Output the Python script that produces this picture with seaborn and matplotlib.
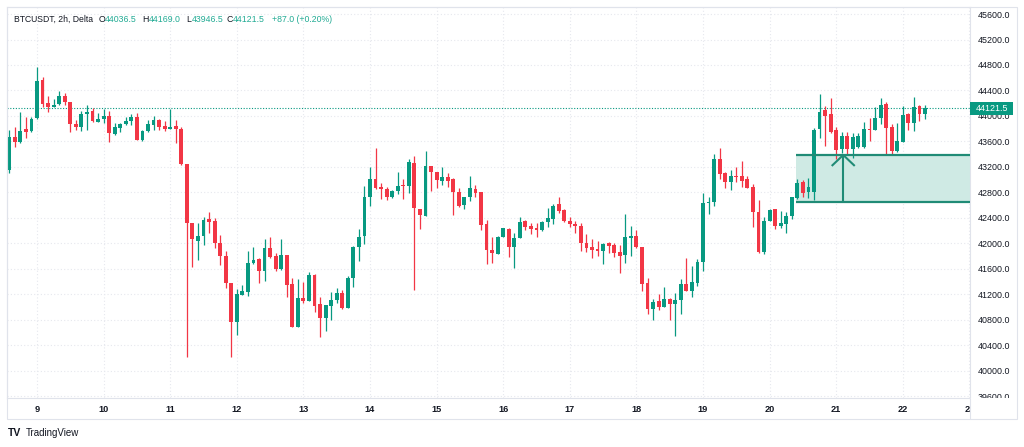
import numpy as np
import pandas as pd
import matplotlib
matplotlib.use("Agg")
import matplotlib.pyplot as plt
import matplotlib.dates as mdates
import matplotlib.transforms as mtransforms
from matplotlib.patches import Rectangle
from matplotlib.lines import Line2D
import seaborn as sns

# BTCUSDT 2h candles, 8 Dec 2023 14:00 -> 22 Dec 2023 08:00
start = "2023-12-08 14:00"

opens = [
    43152, 43675, 43586, 43790, 43759, 43963, 44559, 44198, 44146, 44182,
    44313, 44224, 43874, 43832, 44025, 44078, 43910, 43952, 44005, 43722,
    43816, 43869, 43916, 43978, 43623, 43764, 43858, 43937, 43837, 43801,
    43837, 43801, 43241, 42316, 42044, 42122, 42384, 42352, 42002, 41803,
    41374, 40773, 41191, 41243, 41688, 41751, 41568, 41923, 41803, 41594,
    41819, 41358, 40694, 41149, 41102, 41505, 41050, 40825, 41024, 41113,
    41217, 40992, 41453, 41939, 42122, 42734, 43011, 42880, 42854, 42723,
    42828, 42912, 42901, 43267, 42541, 42436, 43220, 43116, 42985, 43043,
    43006, 42812, 42598, 42723, 42854, 42802, 42305, 41897, 41834, 42106,
    42227, 41939, 42080, 42352, 42274, 42237, 42211, 42332, 42384, 42614,
    42525, 42352, 42300, 42279, 42012, 41939, 41908, 41887, 42002, 41976,
    41866, 41819, 42091, 42117, 41949, 41374, 40971, 41097, 40997, 41123,
    41045, 41113, 41358, 41259, 41384, 41704, 42640, 42645, 43320, 43100,
    42969, 43063, 43053, 43011, 42880, 42499, 41861, 42352, 42535, 42279,
    42300, 42431, 42708, 42969, 42812, 42800, 43796, 44094, 44031, 43780,
    43482, 43691, 43482, 43518, 43518, 43796, 43780, 43963, 44188, 43832,
    43450, 43597, 44031, 43885, 44157, 44036.5,
]
highs = [
    43780, 43832, 44067, 43978, 43978, 44773, 44606, 44313, 44266, 44392,
    44365, 44224, 43931, 44083, 44172, 44120, 44041, 44109, 44078, 43895,
    43884, 43989, 44031, 44052, 43780, 43937, 43999, 43947, 43926, 44104,
    43937, 43832, 43241, 42316, 42316, 42410, 42499, 42394, 42133, 41881,
    41374, 41285, 41348, 41881, 41949, 41766, 42065, 42106, 41845, 42065,
    41819, 41463, 41437, 41390, 41557, 41515, 41154, 41034, 41243, 41296,
    41269, 41489, 41960, 42222, 42901, 43205, 43492, 42954, 42880, 42839,
    43116, 43011, 43325, 43372, 42541, 43450, 43220, 43116, 43194, 43111,
    43032, 42865, 42723, 43058, 42917, 42802, 42368, 42106, 42117, 42248,
    42248, 42159, 42410, 42368, 42315, 42315, 42352, 42551, 42614, 42734,
    42541, 42420, 42352, 42316, 42143, 42070, 42044, 42002, 42028, 42012,
    41976, 42462, 42274, 42211, 41949, 41463, 41123, 41201, 41322, 41139,
    41217, 41437, 41777, 41646, 41751, 42786, 42734, 43398, 43492, 43126,
    43152, 43205, 43294, 43063, 42927, 42682, 42420, 42541, 42541, 42509,
    42488, 42734, 43006, 42995, 43032, 43817, 44340, 44162, 44287, 43832,
    43743, 43754, 43728, 43728, 43911, 43963, 44136, 44277, 44225, 43869,
    43885, 44162, 44041, 44303, 44172, 44169.0,
]
lows = [
    43110, 43508, 43580, 43660, 43748, 43952, 44146, 44067, 44140, 44172,
    44167, 43754, 43780, 43769, 43780, 43905, 43900, 43895, 43586, 43696,
    43748, 43858, 43853, 43623, 43612, 43754, 43785, 43785, 43759, 43801,
    43570, 43231, 40223, 41625, 41740, 41975, 42159, 41923, 41662, 41306,
    40224, 40563, 41191, 41181, 41677, 41384, 41411, 41777, 41568, 41583,
    41165, 40694, 40694, 41060, 41092, 40919, 40537, 40631, 40799, 41060,
    40971, 40992, 41322, 41730, 41986, 42587, 42849, 42692, 42682, 42708,
    42770, 42692, 42797, 41270, 42221, 42436, 42823, 42865, 42917, 42891,
    42446, 42577, 42535, 42666, 42734, 42211, 41677, 41698, 41834, 42096,
    41792, 41620, 42080, 42211, 42148, 42106, 42201, 42253, 42305, 42483,
    42342, 42253, 42169, 41881, 41871, 41777, 41803, 41677, 41855, 41792,
    41531, 41698, 41808, 41923, 41259, 40888, 40799, 40956, 40997, 40799,
    40548, 40893, 41259, 41154, 41337, 41568, 42457, 42593, 43006, 42875,
    42838, 42969, 42891, 42865, 42263, 41845, 41829, 42352, 42227, 42248,
    42159, 42384, 42697, 42734, 42708, 42680, 43649, 43529, 43738, 43325,
    43414, 43388, 43346, 43492, 43492, 43607, 43780, 43869, 43388, 43398,
    43440, 43587, 43780, 43764, 43921, 43946.5,
]
closes = [
    43675, 43586, 43769, 43743, 43957, 44548, 44193, 44146, 44177, 44313,
    44219, 43869, 43832, 44031, 44067, 43916, 43952, 44005, 43738, 43822,
    43869, 43921, 43984, 43623, 43764, 43869, 43937, 43827, 43801, 43827,
    43796, 43241, 42315, 42065, 42117, 42368, 42342, 42002, 41808, 41374,
    40773, 41202, 41254, 41688, 41740, 41568, 41923, 41792, 41594, 41819,
    41348, 40694, 41149, 41102, 41505, 41024, 40825, 41034, 41113, 41217,
    40992, 41453, 41939, 42106, 42734, 43011, 42875, 42849, 42734, 42828,
    42901, 42901, 43273, 42561, 42446, 43220, 43116, 42995, 43043, 42985,
    42802, 42593, 42723, 42865, 42786, 42289, 41897, 41845, 42106, 42248,
    41939, 42080, 42342, 42263, 42221, 42211, 42342, 42394, 42587, 42509,
    42352, 42300, 42279, 42002, 41934, 41897, 41887, 41986, 41965, 41855,
    41808, 42096, 42122, 41939, 41364, 40971, 41087, 41008, 41128, 41045,
    41113, 41358, 41259, 41390, 41704, 42640, 42656, 43320, 43090, 42969,
    43063, 43043, 42985, 42875, 42488, 41861, 42352, 42525, 42279, 42316,
    42436, 42724, 42943, 42797, 42891, 43780, 44068, 44005, 43754, 43466,
    43691, 43482, 43675, 43691, 43790, 43775, 43973, 44172, 43817, 43450,
    43607, 44015, 43885, 44146, 44034.5, 44121.5,
]

# demand zone drawing + arrow
zone_low, zone_high = 42655, 43388
zone_start = "2023-12-20 09:38"
arrow_time = "2023-12-21 02:32"

UP = "#089981"
DOWN = "#f23645"
ZONE = "#208b76"
TXT = "#131722"
LINE = "#e0e3eb"

df = pd.DataFrame({
    "time": pd.date_range(start, periods=len(opens), freq="2h"),
    "open": opens, "high": highs, "low": lows, "close": closes,
})
df["x"] = mdates.date2num(df["time"])
up = df["close"] >= df["open"]
colors = np.where(up, UP, DOWN)

sns.set_theme(style="white")
plt.rcParams["font.family"] = ["Liberation Sans", "DejaVu Sans"]

W, H = 1024, 447
def fx(px):
    return px / W
def fy(py):
    return 1 - py / H

fig = plt.figure(figsize=(W / 100, H / 100), dpi=100)
ax = fig.add_axes([fx(7), fy(398), fx(970) - fx(7), fy(7) - fy(398)])

base = mdates.date2num(pd.Timestamp("2023-12-09"))
xmin, xmax = base - 0.4505, base + 14.009
ax.set_xlim(xmin, xmax)
ax.set_ylim(39575, 45710)

# zone fill below candles
zx0 = mdates.date2num(pd.Timestamp(zone_start))
ax.fill_between([zx0, xmax + 1], zone_low, zone_high, color="#cfeae4", linewidth=0, zorder=1)

# candles
ax.vlines(df["x"], df["low"], df["high"], colors=colors, linewidth=0.9, zorder=3)
body_bottom = df[["open", "close"]].min(axis=1)
body_h = (df["close"] - df["open"]).abs().clip(lower=14)
ax.bar(df["x"], body_h, bottom=body_bottom, width=0.058, color=colors, linewidth=0, zorder=4)

# zone borders and arrow
ax.hlines([zone_low, zone_high], zx0, xmax + 1, colors=ZONE, linewidth=1.6, zorder=5)
axx = mdates.date2num(pd.Timestamp(arrow_time))
ax.plot([axx, axx], [zone_low, zone_high], color=ZONE, lw=1.5, zorder=6, solid_capstyle="butt")
ax.plot([axx - 0.173, axx, axx + 0.173], [zone_high - 172, zone_high, zone_high - 172],
        color=ZONE, lw=1.5, zorder=6, solid_capstyle="butt")

# last price line
last = closes[-1]
ax.axhline(last, color=UP, linestyle=(0, (1, 1.5)), linewidth=0.8, zorder=2)

# axes, ticks, grid
days = pd.date_range("2023-12-09", "2023-12-23", freq="D")
ax.set_xticks(mdates.date2num(days))
ax.set_xticklabels([str(d.day) for d in days], fontweight="bold")
yt = np.arange(39600, 45601, 400)
ax.set_yticks(yt)
ax.set_yticklabels([f"{v:.1f}" for v in yt])
ax.yaxis.tick_right()
ax.grid(True, color="#e6e8ee", linestyle=(0, (1, 2)), linewidth=0.8)
ax.set_axisbelow(True)
ax.tick_params(axis="x", length=0, pad=5, labelsize=6.6, labelcolor=TXT)
ax.tick_params(axis="y", length=0, pad=5.5, labelsize=6.4, labelcolor=TXT)
for s in ax.spines.values():
    s.set_color(LINE)
    s.set_linewidth(0.8)

# last price badge on the price scale
blend = mtransforms.blended_transform_factory(ax.transAxes, ax.transData)
ax.add_patch(Rectangle((1.0, last - 102), 43 / 963, 204, transform=blend,
                       facecolor=UP, edgecolor="none", clip_on=False, zorder=10))
ax.text(1 + 21.5 / 963, last, f"{last:.1f}", transform=blend, ha="center", va="center",
        color="white", fontsize=6.4, clip_on=False, zorder=11)

# pane border, corner cover
fig.add_artist(Rectangle((fx(970), fy(419)), fx(1017) - fx(970), fy(398) - fy(419),
                         transform=fig.transFigure, facecolor="white", edgecolor="none", zorder=5))
fig.add_artist(Rectangle((fx(7), fy(419)), fx(1017) - fx(7), fy(7) - fy(419),
                         transform=fig.transFigure, fill=False, edgecolor=LINE, lw=0.8, zorder=6))
fig.add_artist(Line2D([fx(970), fx(970)], [fy(398), fy(419)], transform=fig.transFigure,
                      color=LINE, lw=0.8, zorder=6))

# header
prev = closes[-2]
chg = last - prev
hy = fy(19.3)
fig.text(fx(14), hy, "BTCUSDT, 2h, Delta", fontsize=6.2, color=TXT, va="center")
hdr = [("O", opens[-1], 105.3), ("H", highs[-1], 149), ("L", lows[-1], 191.7), ("C", last, 233)]
for key, val, px in hdr:
    fig.text(fx(px - 0.3), hy, key, fontsize=6.3, color=TXT, va="center", ha="right")
    fig.text(fx(px), hy, f"{val:.1f}", fontsize=6.3, color="#22ab94", va="center")
fig.text(fx(271.7), hy, f"{chg:+.1f} ({chg / prev * 100:+.2f}%)", fontsize=6.3,
         color="#22ab94", va="center")

# watermark
fig.text(fx(8), fy(433), "TV", fontsize=7.5, fontweight="heavy", color=TXT, va="center")
fig.text(fx(26), fy(433), "TradingView", fontsize=7, color=TXT, va="center")

fig.savefig("out.png", dpi=100, facecolor="white")
